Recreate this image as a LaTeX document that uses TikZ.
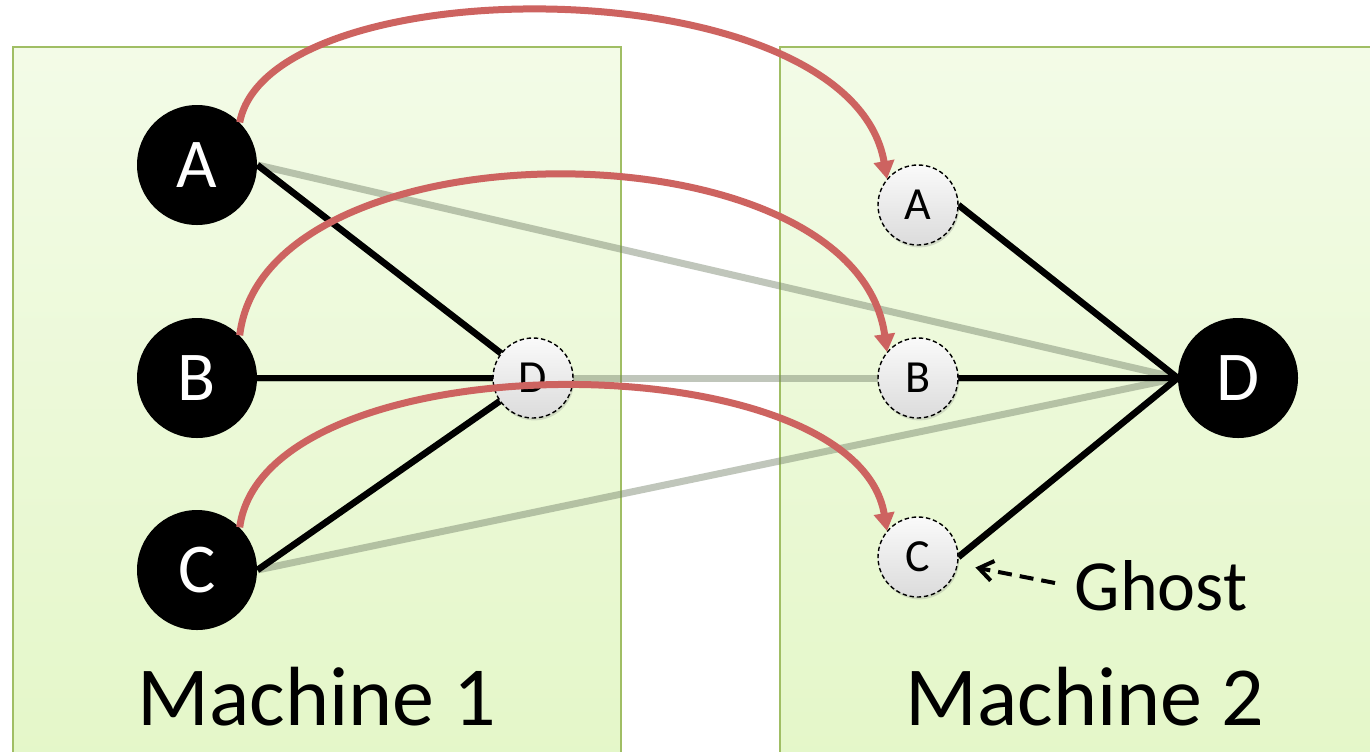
\documentclass[tikz,border=0pt]{standalone}
\usepackage{fontspec}
\setmainfont{Carlito}
\usetikzlibrary{arrows.meta,shadows}
\definecolor{boxline}{RGB}{160,190,100}
\definecolor{boxtop}{RGB}{243,251,231}
\definecolor{boxbot}{RGB}{228,247,200}
\definecolor{migrate}{RGB}{205,99,96}
\definecolor{crossedge}{RGB}{115,128,105}
\tikzset{
  machine/.style={draw=boxline, line width=1.3pt, top color=boxtop, bottom color=boxbot},
  vertex/.style={circle, fill=black, minimum size=60pt, inner sep=0pt, text=white, font=\fontsize{35}{40}\selectfont},
  anchorpt/.style={circle, minimum size=#1, inner sep=0pt},
  ghost/.style={circle, draw=black, dashed, dash pattern=on 2.2pt off 1.4pt, line width=0.7pt, minimum size=40pt, inner sep=0pt,
    top color=gray!4, bottom color=gray!28, font=\fontsize{23}{27}\selectfont,
    drop shadow={opacity=0.25, shadow xshift=0.6pt, shadow yshift=-1.2pt}},
  localedge/.style={line width=3.3pt, black},
  remoteedge/.style={line width=3.5pt, crossedge, opacity=0.45},
  migration/.style={line width=3.5pt, migrate, -{Triangle[length=9pt,width=10pt]}},
  label/.style={anchor=base, font=\fontsize{42}{48}\selectfont},
}
\begin{document}
\begin{tikzpicture}[x=0.5pt, y=-0.5pt]
\useasboundingbox (0,0) rectangle (1370,751);

% machines
\path[machine] (13,47) rectangle (621,770);
\path[machine] (780,47) rectangle (1385,770);

% node placement
\coordinate (pA) at (197,165);
\coordinate (pB) at (197,378);
\coordinate (pC) at (197,570);
\coordinate (pgD) at (533,378);
\coordinate (pgA) at (918,205);
\coordinate (pgB) at (918,378);
\coordinate (pgC) at (918,557);
\coordinate (pD) at (1238,378);

% outlines used to route the edges
\node[anchorpt=60pt] (A) at (pA) {};
\node[anchorpt=60pt] (B) at (pB) {};
\node[anchorpt=60pt] (C) at (pC) {};
\node[anchorpt=60pt] (D) at (pD) {};
\node[anchorpt=40pt] (gD) at (pgD) {};
\node[anchorpt=40pt] (gA) at (pgA) {};
\node[anchorpt=40pt] (gB) at (pgB) {};
\node[anchorpt=40pt] (gC) at (pgC) {};

% edges that cross machines
\draw[remoteedge] (A.east) -- (D.west);
\draw[remoteedge] (B.east) -- (D.west);
\draw[remoteedge] (C.east) -- (D.west);

% local edges
\draw[localedge] (A.east) -- (gD);
\draw[localedge] (B.east) -- (gD);
\draw[localedge] (C.east) -- (gD);
\draw[localedge] (gA.east) -- (D.west);
\draw[localedge] (gB.east) -- (D.west);
\draw[localedge] (gC.east) -- (D.west);

% vertices
\node[vertex] at (pA) {A};
\node[vertex] at (pB) {B};
\node[vertex] at (pC) {C};
\node[vertex] at (pD) {D};
\node[ghost] at (pgD) {D};
\node[ghost] at (pgA) {A};
\node[ghost] at (pgB) {B};
\node[ghost] at (pgC) {C};

% vertex copies sent to the other machine
\draw[migration] (A.45) .. controls (270,-35) and (850,-35) .. (gA.140);
\draw[migration] (B.45) .. controls (265,120) and (855,120) .. (gB.140);
\draw[migration] (C.45) .. controls (265,339) and (855,339) .. (gC.140);

% labels
\node[label] (m1) at (317,725) {Machine 1};
\node[label] (m2) at (1085,725) {Machine 2};
\node[label, font=\fontsize{36}{42}\selectfont] (gl) at (1161,610) {Ghost};
\coordinate (glt) at (1055,583);
\draw[line width=2pt, dashed, dash pattern=on 7pt off 4pt, shorten >=9pt,
  -{Straight Barb[length=7pt,width=10pt,line width=2pt]}] (glt) -- (gC.-10);
\end{tikzpicture}
\end{document}
